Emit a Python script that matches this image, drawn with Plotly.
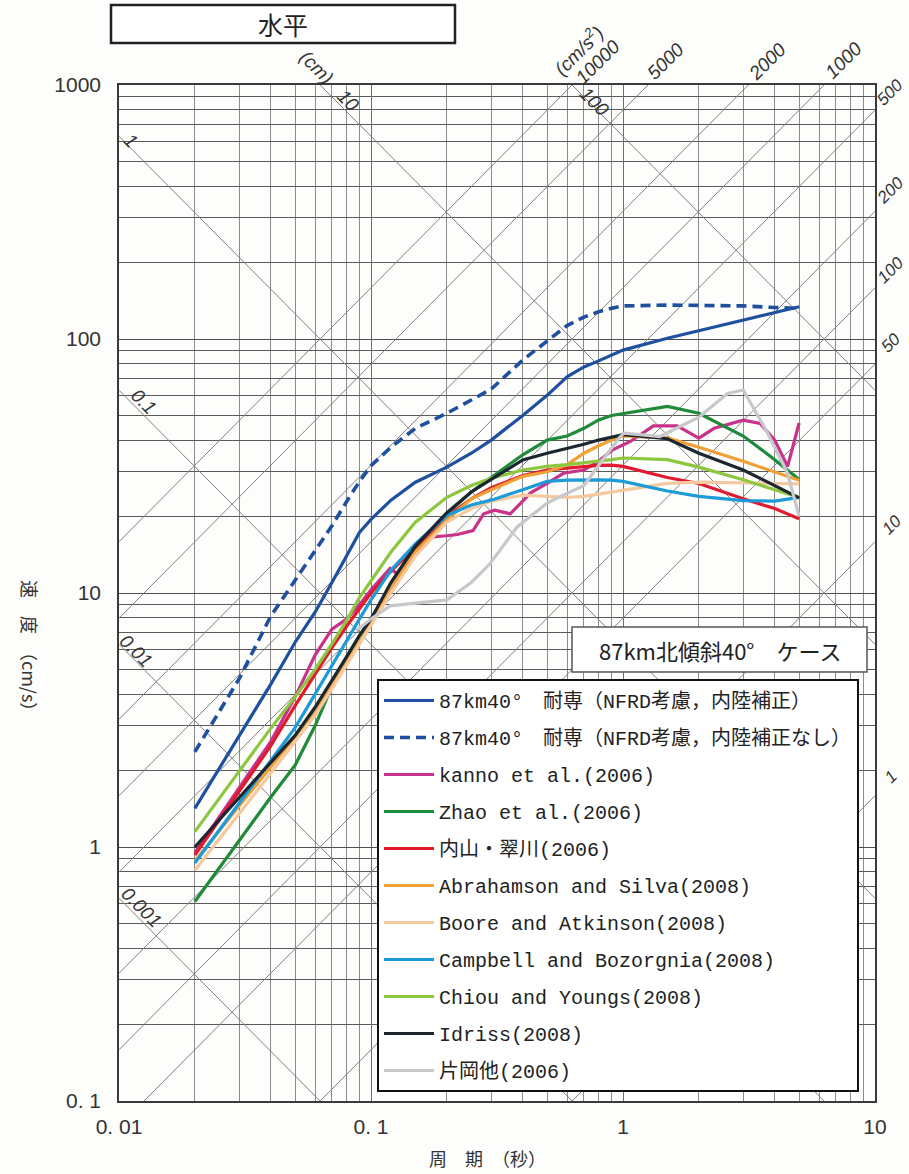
import numpy as np
import plotly.graph_objects as go

# ---------------- data ----------------
periods = [0.02, 0.03, 0.04, 0.05, 0.06, 0.07, 0.08, 0.09, 0.1, 0.12, 0.15, 0.2, 0.25,
           0.3, 0.4, 0.5, 0.6, 0.7, 0.8, 0.9, 1.0, 1.5, 2.0, 3.0, 4.0, 5.0]

taisen_hosei = [1.42, 2.74, 4.37, 6.4, 8.4, 11.0, 14.0, 17.3, 19.5, 23.2, 27.3, 31.3, 35.5,
                40, 50, 60, 71, 77.6, 82, 86.3, 90.4, 100.7, 107.9, 118.7, 127, 134]
taisen_nashi = [2.37, 4.6, 8.1, 11.2, 14.6, 18.4, 22.9, 27.5, 31.7, 37.5, 44.5, 51, 57.5,
                63.5, 82.6, 98.6, 113, 122, 128, 132, 135, 136, 136, 135, 133, 132]
zhao = [0.61, 1.06, 1.57, 2.1, 3.0, 4.3, 5.6, 6.8, 7.9, 10.5, 14.5, 20.5, 25,
        28.5, 35, 40, 41.5, 44.5, 48, 50, 50.8, 54.3, 51, 41.5, 33.5, 28]
uchiyama = [0.93, 1.65, 2.5, 3.6, 4.8, 6.1, 7.4, 8.7, 10.0, 12.2, 15.2, 20, 23.5,
            26, 29, 30.5, 31, 31.5, 31.8, 31.9, 31.5, 28.5, 27, 23.5, 21.5, 19.6]
abrahamson = [0.88, 1.45, 2.05, 2.7, 3.4, 4.3, 5.3, 6.4, 7.6, 10.5, 14.5, 19.4, 23.5,
              25.5, 28.8, 30, 32, 35.5, 38, 40, 41.5, 40.8, 37.5, 33, 30, 27.8]
boore = [0.81, 1.35, 1.95, 2.6, 3.3, 4.2, 5.2, 6.3, 7.4, 10, 14, 19, 21.5,
         23, 24.3, 24, 23.8, 24, 24.5, 25, 25.3, 27, 27.3, 27.2, 27, 26.9]
campbell = [0.865, 1.49, 2.2, 2.95, 4.0, 5.2, 6.5, 7.9, 9.4, 12.3, 15.6, 20.2, 22.2,
            23.2, 25.5, 27.5, 27.8, 27.9, 27.9, 27.8, 27.5, 25.2, 24, 23.1, 23, 23.8]
chiou = [1.15, 1.99, 2.93, 3.9, 5.0, 6.3, 7.8, 9.6, 11.2, 14.5, 19, 23.8, 26.5,
         28.3, 30.5, 31.5, 32, 32.5, 33, 33.5, 34, 33.5, 31.3, 27.9, 25.5, 23.8]
idriss = [1.0, 1.56, 2.14, 2.75, 3.55, 4.5, 5.6, 6.8, 7.9, 11.0, 15.3, 20.7, 25,
          28, 33.4, 35.5, 37, 38.5, 40, 41, 42, 40.5, 35.5, 30.5, 26.5, 23.7]

kanno_periods = [0.02, 0.03, 0.04, 0.05, 0.06, 0.07, 0.08, 0.09, 0.1, 0.119, 0.127, 0.15,
                 0.171, 0.2, 0.22, 0.254, 0.28, 0.31, 0.357, 0.4, 0.43, 0.5, 0.58, 0.7,
                 0.8, 0.91, 1.07, 1.32, 1.64, 2.0, 2.3, 3.0, 3.5, 4.0, 4.5, 5.0]
kanno = [0.95, 1.7, 2.6, 3.9, 5.7, 7.2, 7.9, 9.0, 10.3, 12.5, 11.9, 14.8,
         16.6, 16.8, 17.0, 17.6, 20.5, 21.2, 20.5, 23, 24.8, 27, 29.6, 30.5,
         33, 36.6, 39.5, 45.5, 45.5, 40.7, 44.5, 47.9, 46.5, 40, 31.5, 46.7]

kataoka_periods = [0.088, 0.1, 0.119, 0.15, 0.171, 0.2, 0.25, 0.296, 0.38, 0.5, 0.56, 0.7,
                   0.83, 0.97, 1.01, 1.4, 2.0, 2.6, 3.0, 3.7, 4.5, 5.0]
kataoka = [7.15, 7.9, 8.9, 9.1, 9.2, 9.4, 11.0, 13.0, 18.2, 22.6, 23.9, 26.5,
           33.4, 41.0, 42.6, 41.3, 49.2, 61, 63, 43.7, 29.6, 20.0]

# tripartite guide lines
disp_levels = [0.001, 0.01, 0.1, 1, 10, 100]                       # cm
acc_levels = [1, 10, 50, 100, 200, 500, 1000, 2000, 5000, 10000]   # cm/s2

x_tickvals = [0.01, 0.1, 1, 10]
x_ticktext = ['0. 01', '0. 1', '1', '10']
y_tickvals = [0.1, 1, 10, 100, 1000]
y_ticktext = ['0. 1', '1', '10', '100', '1000']

# ---------------- layout helpers ----------------
W, H = 909, 1174
L, R, T, B = 119, 875, 85, 1101


def px(x):
    return (x - L) / (R - L)


def py(y):
    return (B - y) / (B - T)


fig = go.Figure()

t_edge = np.array([0.01, 10.0])
for d in disp_levels:
    fig.add_trace(go.Scatter(x=t_edge, y=2 * np.pi * d / t_edge, mode='lines',
                             line=dict(color='#808080', width=1),
                             showlegend=False, hoverinfo='skip'))
for a in acc_levels:
    fig.add_trace(go.Scatter(x=t_edge, y=a * t_edge / (2 * np.pi), mode='lines',
                             line=dict(color='#808080', width=1),
                             showlegend=False, hoverinfo='skip'))

series = [
    ('87km40°　耐専（NFRD考慮，内陸補正）', periods, taisen_hosei, '#1f4f9f', 'solid', 3.2),
    ('87km40°　耐専（NFRD考慮，内陸補正なし）', periods, taisen_nashi, '#1f4f9f', '10px,6px', 3.6),
    ('kanno et al.(2006)', kanno_periods, kanno, '#c8328a', 'solid', 3.2),
    ('Zhao et al.(2006)', periods, zhao, '#1f8a38', 'solid', 3.2),
    ('内山・翠川(2006)', periods, uchiyama, '#e01b2e', 'solid', 3.2),
    ('Abrahamson and Silva(2008)', periods, abrahamson, '#f0a035', 'solid', 3.2),
    ('Boore and Atkinson(2008)', periods, boore, '#f5c9a0', 'solid', 3.2),
    ('Campbell and Bozorgnia(2008)', periods, campbell, '#1d9ad8', 'solid', 3.2),
    ('Chiou and Youngs(2008)', periods, chiou, '#8dc63f', 'solid', 3.2),
    ('Idriss(2008)', periods, idriss, '#1b2630', 'solid', 3.2),
    ('片岡他(2006)', kataoka_periods, kataoka, '#c8c8cc', 'solid', 3.2),
]
for name, tx, vy, col, dash, w in series:
    fig.add_trace(go.Scatter(x=tx, y=vy, mode='lines', name=name, legendgroup=name,
                             line=dict(color=col, dash=dash, width=w)))

minor_x = [k * 10.0 ** e for e in (-2, -1, 0) for k in range(2, 10)]
minor_y = [k * 10.0 ** e for e in (-1, 0, 1, 2) for k in range(2, 10)]

tick_font = dict(family='Liberation Sans Narrow, Liberation Sans, Arial', size=21, color='#333')
cjk = 'Noto Sans CJK JP, Noto Sans, sans-serif'

fig.update_xaxes(type='log', range=[-2, 1], tickmode='array', tickvals=x_tickvals,
                 ticktext=x_ticktext, showgrid=True, gridcolor='#6f6f6f', gridwidth=1,
                 minor=dict(tickmode='array', tickvals=minor_x, showgrid=True,
                            gridcolor='#8c8c8c', gridwidth=1, ticks=''),
                 showline=True, linecolor='#3a3a3a', linewidth=1.5, mirror=True,
                 ticks='', zeroline=False, tickfont=tick_font, ticklabelstandoff=6)
fig.update_yaxes(type='log', range=[-1, 3], tickmode='array', tickvals=y_tickvals,
                 ticktext=y_ticktext, showgrid=True, gridcolor='#4f4f4f', gridwidth=1.2,
                 minor=dict(tickmode='array', tickvals=minor_y, showgrid=True,
                            gridcolor='#5a5a5a', gridwidth=1.1, ticks=''),
                 showline=True, linecolor='#3a3a3a', linewidth=1.5, mirror=True,
                 ticks='', zeroline=False, tickfont=tick_font, ticklabelstandoff=12)

shapes = [
    dict(type='rect', xref='paper', yref='paper', x0=px(111), x1=px(455), y0=py(43), y1=py(5),
         line=dict(color='#222', width=2.5), fillcolor='white', layer='above'),
    dict(type='rect', xref='paper', yref='paper', x0=px(572), x1=px(867), y0=py(672), y1=py(627),
         line=dict(color='#555', width=1.5), fillcolor='white', layer='above'),
]

lab_font = dict(family='Liberation Sans Narrow, Liberation Sans, Arial', size=19, color='#333',
                style='italic')
lab_small = dict(family='Liberation Sans Narrow, Liberation Sans, Arial', size=17, color='#333',
                 style='italic')


def ann(text, x, y, angle=0, font=None):
    return dict(text=text, x=px(x), y=py(y), xref='paper', yref='paper', showarrow=False,
                xanchor='center', yanchor='middle', textangle=angle,
                font=font if font is not None else lab_font)


annotations = [
    ann('水平', 283, 24, 0, dict(family=cjk, size=25, color='#222')),
    ann('87km北傾斜40°　ケース', 720, 650, 0, dict(family=cjk, size=22, color='#222')),
    ann('周　期　（秒）', 487, 1158, 0, dict(family=cjk, size=18, color='#333')),
    ann('速　度　（cm/s）', 30, 650, 90, dict(family=cjk, size=18, color='#333')),
    # displacement labels
    ann('(cm)', 317, 67, 45), ann('10', 348, 101, 45), ann('100', 594, 102, 45),
    ann('1', 131, 140, 45), ann('0.1', 144, 401, 45), ann('0.01', 136, 650, 45),
    ann('0.001', 142, 907, 45),
    # acceleration labels
    ann('(cm/s<sup>2</sup>)', 578, 50, -45), ann('10000', 597, 62, -45),
    ann('5000', 665, 61, -45), ann('2000', 767, 61, -45), ann('1000', 843, 60, -45),
    ann('500', 890, 93, -45, lab_small), ann('200', 890, 190, -45, lab_small),
    ann('100', 890, 270, -45, lab_small), ann('50', 890, 343, -45, lab_small),
    ann('10', 891, 525, -45, lab_small), ann('1', 890, 777, -45, lab_small),
]

fig.update_layout(
    width=W, height=H, autosize=False,
    margin=dict(l=L, r=W - R, t=T, b=H - B, pad=0),
    paper_bgcolor='#fdfdfb', plot_bgcolor='#fdfdfb',
    shapes=shapes, annotations=annotations,
    showlegend=True,
    legend=dict(x=px(377), y=py(679), xanchor='left', yanchor='top',
                bgcolor='white', bordercolor='#111', borderwidth=2,
                font=dict(family='Liberation Mono, ' + cjk, size=20, color='#222'),
                tracegroupgap=8, itemwidth=50),
)

fig.write_html('out.html', config={'displayModeBar': False},
               post_script="document.body.style.margin='0';")
